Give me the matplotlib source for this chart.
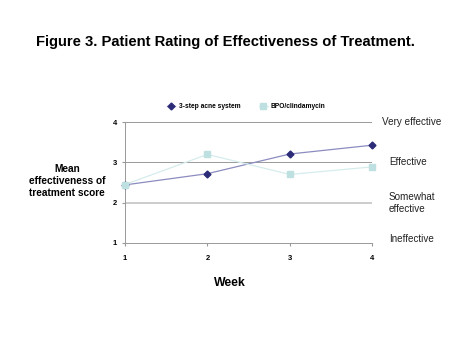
import matplotlib
matplotlib.use("Agg")
import matplotlib.pyplot as plt

plt.rcParams['font.family'] = ['Liberation Sans', 'DejaVu Sans']

weeks = [1, 2, 3, 4]
acne_system = [2.44, 2.72, 3.21, 3.43]
bpo_clinda = [2.45, 3.20, 2.70, 2.89]
ratings = ["Ineffective", "Somewhat\neffective", "Effective", "Very effective"]

fig = plt.figure(figsize=(4.5, 3.38), dpi=100)
ax = fig.add_axes([125/450, 1 - 242.7/338, (372.3-125)/450, (242.7-122.3)/338])

ax.plot(weeks, acne_system, color='#8c8cc0', lw=0.9, marker='D', ms=3.5,
        mfc='#2b2b78', mec='#2b2b78', label='3-step acne system', zorder=3,
        clip_on=False)
ax.plot(weeks, bpo_clinda, color='#d6ecec', lw=0.9, marker='s', ms=4,
        mfc='#bfe0e0', mec='#bfe0e0', label='BPO/clindamycin', zorder=3,
        clip_on=False)

ax.set_xlim(1, 4)
ax.set_ylim(1, 4)
ax.set_xticks(weeks)
ax.set_yticks([1, 2, 3, 4])
ax.tick_params(labelsize=5.5, length=2, color='#999999')
ax.tick_params(axis='x', pad=7)
ax.tick_params(axis='y', pad=4)
for t in ax.get_xticklabels() + ax.get_yticklabels():
    t.set_fontweight('bold')
ax.axhline(3, color='#999999', lw=0.7, zorder=1)
ax.axhline(4, color='#999999', lw=0.7, zorder=1)
ax.axhline(2, color='#cccccc', lw=1.4, zorder=1)
for s in ['top', 'right']:
    ax.spines[s].set_visible(False)
for s in ['left', 'bottom']:
    ax.spines[s].set_color('#999999')
    ax.spines[s].set_linewidth(0.7)

label_x = [4.2, 4.2, 4.2, 4.12]
label_y = [1.08, 2.0, 3.0, 4.0]
for xx, yy, lab in zip(label_x, label_y, ratings):
    ax.text(xx, yy, lab, fontsize=7.1, va='center', ha='left',
            color='#222222', clip_on=False, linespacing=1.25)

ax.legend(loc='lower center', bbox_to_anchor=(0.49, 1.08), ncol=2, frameon=False,
          prop={'size': 4.8, 'weight': 'bold'}, handlelength=1.3, handletextpad=0.5,
          columnspacing=2.8, borderaxespad=0)

fig.text(0.5, 1 - 42/338, "Figure 3. Patient Rating of Effectiveness of Treatment.",
         ha='center', va='center', fontsize=10.6, fontweight='bold')
fig.text(67/450, 1 - 180.5/338, "Mean\neffectiveness of\ntreatment score",
         ha='center', va='center', fontsize=7.3, fontweight='bold', linespacing=1.25)
fig.text(230/450, 1 - 283/338, "Week", ha='center', va='center',
         fontsize=8.8, fontweight='bold')

fig.savefig("out.png", dpi=100)
